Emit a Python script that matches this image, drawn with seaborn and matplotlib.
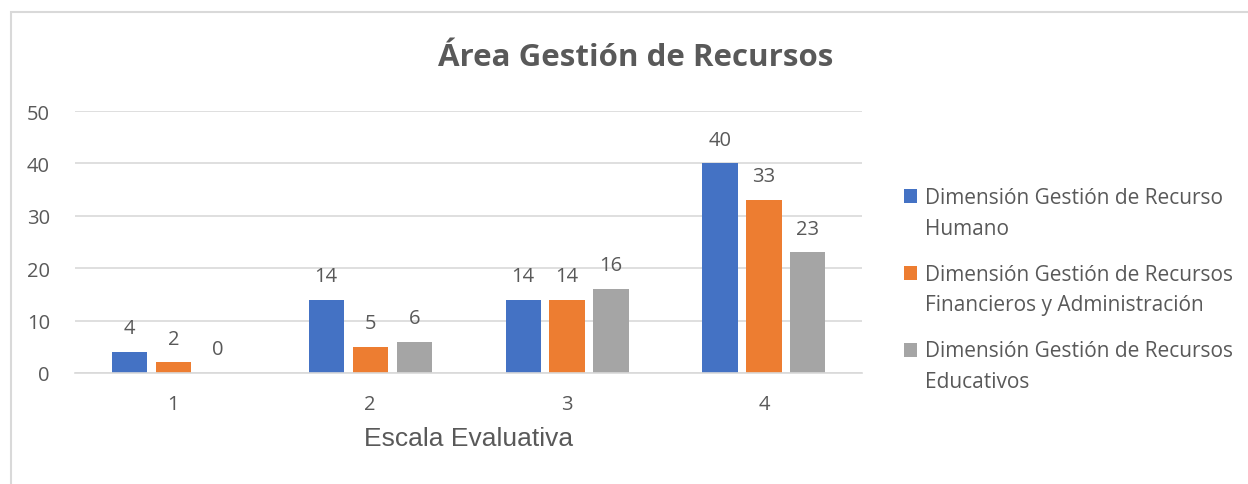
import pandas as pd
import matplotlib.pyplot as plt
import seaborn as sns
from matplotlib.patches import Rectangle

# --- data ---
escala = ["1", "2", "3", "4"]
humano = [4, 14, 14, 40]
financieros = [2, 5, 14, 33]
educativos = [0, 6, 16, 23]
series = [
    "Dimensión Gestión de Recurso\nHumano",
    "Dimensión Gestión de Recursos\nFinancieros y Administración",
    "Dimensión Gestión de Recursos\nEducativos",
]
colors = ["#4472C4", "#ED7D31", "#A5A5A5"]

df = pd.DataFrame({
    "Escala": escala * 3,
    "Valor": humano + financieros + educativos,
    "Serie": [series[0]] * 4 + [series[1]] * 4 + [series[2]] * 4,
})

sns.set_theme(style="white")
plt.rcParams["font.family"] = ["Open Sans", "DejaVu Sans"]
txt = "#595959"

fig = plt.figure(figsize=(12.48, 4.85), dpi=100)
ax = fig.add_axes([0.060, 0.229, 0.631, 0.540])

sns.barplot(data=df, x="Escala", y="Valor", hue="Serie", palette=colors,
            width=0.67, gap=0.2, saturation=1, linewidth=0, ax=ax, legend=True)

for c in ax.containers:
    ax.bar_label(c, fmt="%d", padding=10, fontsize=14.5, color=txt)

ax.set_ylim(0, 50)
ax.set_yticks(range(0, 51, 10))
ax.yaxis.grid(True, color="#D9D9D9", linewidth=1.2)
ax.set_axisbelow(True)
for s in ["top", "right", "left"]:
    ax.spines[s].set_visible(False)
ax.spines["bottom"].set_color("#D9D9D9")
ax.spines["bottom"].set_linewidth(1.2)
ax.tick_params(axis="both", length=0, labelsize=14.5, labelcolor=txt)
ax.tick_params(axis="x", pad=15)
ax.tick_params(axis="y", pad=18)
ax.set_ylabel("")
ax.set_xlabel("Escala Evaluativa", fontsize=19, color=txt, labelpad=9,
              family=["Liberation Sans", "DejaVu Sans"])

fig.text(0.509, 0.88, "Área Gestión de Recursos", ha="center", va="center",
         fontsize=22.5, fontweight="bold", color=txt)

handles, labels = ax.get_legend_handles_labels()
leg = ax.legend(handles, labels, loc="center left", bbox_to_anchor=(1.029, 0.318),
                frameon=False, fontsize=15, labelcolor=txt, handlelength=0.65,
                handleheight=0.65, handletextpad=0.35, labelspacing=1.2)
for t in leg.get_texts():
    t.set_linespacing(1.6)
# align the swatch with the first line of each label
for p in leg.get_patches():
    p.set_y(p.get_y() + 12.5)

# chart frame
fig.patches.append(Rectangle((11 / 1248, -0.1), 1.2, 1 - 13 / 485 + 0.1,
                             transform=fig.transFigure, fill=False,
                             edgecolor="#D9D9D9", linewidth=1.5))

plt.savefig("out.png", dpi=100)
